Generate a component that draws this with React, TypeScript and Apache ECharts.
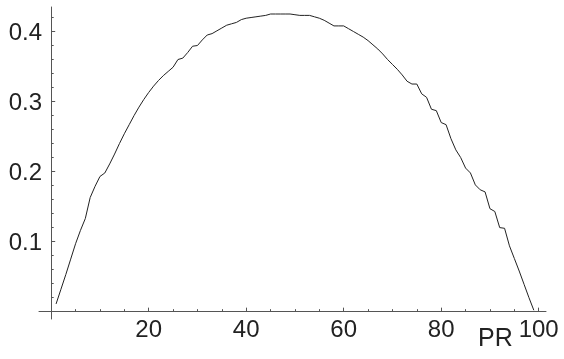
import React, { useEffect, useRef } from "react";
import * as echarts from "echarts";

const PR_VALUES: number[] = Array.from({ length: 99 }, (_, i) => i + 1);
const Y_VALUES: number[] = [
  0.011, 0.032, 0.053, 0.075, 0.097, 0.116, 0.133, 0.163, 0.179, 0.193,
  0.198, 0.211, 0.225, 0.240, 0.254, 0.267, 0.280, 0.292, 0.303, 0.313,
  0.322, 0.330, 0.337, 0.343, 0.349, 0.360, 0.362, 0.370, 0.379, 0.380,
  0.388, 0.395, 0.397, 0.401, 0.405, 0.409, 0.411, 0.413, 0.417, 0.419,
  0.420, 0.421, 0.422, 0.423, 0.425, 0.425, 0.425, 0.425, 0.425, 0.424,
  0.423, 0.423, 0.423, 0.421, 0.419, 0.416, 0.412, 0.408, 0.408, 0.408,
  0.404, 0.400, 0.396, 0.392, 0.387, 0.381, 0.375, 0.368, 0.360, 0.353,
  0.346, 0.338, 0.329, 0.325, 0.325, 0.311, 0.306, 0.289, 0.287, 0.270,
  0.267, 0.247, 0.231, 0.220, 0.205, 0.198, 0.181, 0.174, 0.171, 0.147,
  0.143, 0.120, 0.119, 0.094, 0.076, 0.058, 0.039, 0.020, 0.002,
];
const X_MAJOR = [20, 40, 60, 80, 100];
const X_MINOR = [5, 10, 15, 25, 30, 35, 45, 50, 55, 65, 70, 75, 85, 90, 95];
const Y_MAJOR = [0.1, 0.2, 0.3, 0.4];
const Y_MINOR = [0.02, 0.04, 0.06, 0.08, 0.12, 0.14, 0.16, 0.18, 0.22, 0.24, 0.26, 0.28, 0.32, 0.34, 0.36, 0.38, 0.42];
const X_NAME = "PR";

const X_MIN = -2.5;
const X_MAX = 101.5;
const Y_MIN = -0.0105;
const Y_MAX = 0.435;

const FONT = "'Liberation Sans', Arial, sans-serif";
const AXIS_COLOR = "#555";
const TEXT_COLOR = "#222";

export default function App() {
  const ref = useRef<HTMLDivElement>(null);
  useEffect(() => {
    if (!ref.current) return;
    const chart = echarts.init(ref.current, null, { renderer: "svg" });
    const baseX = {
      type: "value",
      min: X_MIN,
      max: X_MAX,
      position: "bottom",
      splitLine: { show: false },
    };
    const baseY = {
      type: "value",
      min: Y_MIN,
      max: Y_MAX,
      position: "left",
      splitLine: { show: false },
    };
    chart.setOption({
      animation: false,
      grid: { left: 39, right: 18, top: 7, bottom: 40, containLabel: false, outerBoundsMode: "none" },
      xAxis: [
        {
          ...baseX,
          axisLine: { show: true, onZero: true, lineStyle: { color: AXIS_COLOR, width: 1 } },
          axisTick: { show: true, inside: true, length: 4, customValues: X_MAJOR, lineStyle: { color: AXIS_COLOR } },
          axisLabel: {
            show: true,
            customValues: X_MAJOR,
            margin: -3,
            color: TEXT_COLOR,
            fontSize: 24,
            fontFamily: FONT,
          },
        },
        {
          ...baseX,
          axisLine: { show: false, onZero: true },
          axisTick: { show: true, inside: true, length: 2.5, customValues: X_MINOR, lineStyle: { color: AXIS_COLOR } },
          axisLabel: { show: false },
        },
      ],
      yAxis: [
        {
          ...baseY,
          axisLine: { show: true, onZero: true, lineStyle: { color: AXIS_COLOR, width: 1 } },
          axisTick: { show: true, inside: true, length: 4, customValues: Y_MAJOR, lineStyle: { color: AXIS_COLOR } },
          axisLabel: {
            show: true,
            customValues: Y_MAJOR,
            margin: -3,
            color: TEXT_COLOR,
            fontSize: 24,
            fontFamily: FONT,
            formatter: (v: number) => v.toFixed(1),
          },
        },
        {
          ...baseY,
          axisLine: { show: false, onZero: true },
          axisTick: { show: true, inside: true, length: 2.5, customValues: Y_MINOR, lineStyle: { color: AXIS_COLOR } },
          axisLabel: { show: false },
        },
      ],
      graphic: [
        {
          type: "text",
          left: 478,
          top: 324,
          style: { text: X_NAME, fill: TEXT_COLOR, fontSize: 25, fontFamily: FONT },
        },
      ],
      series: [
        {
          type: "line",
          xAxisIndex: 0,
          yAxisIndex: 0,
          data: PR_VALUES.map((x, i) => [x, Y_VALUES[i]]),
          showSymbol: false,
          symbol: "none",
          lineStyle: { color: "#222", width: 1 },
        },
      ],
    });
    return () => chart.dispose();
  }, []);
  return <div ref={ref} style={{ width: 564, height: 359, position: "fixed", left: 0, top: 0 }} />;
}
